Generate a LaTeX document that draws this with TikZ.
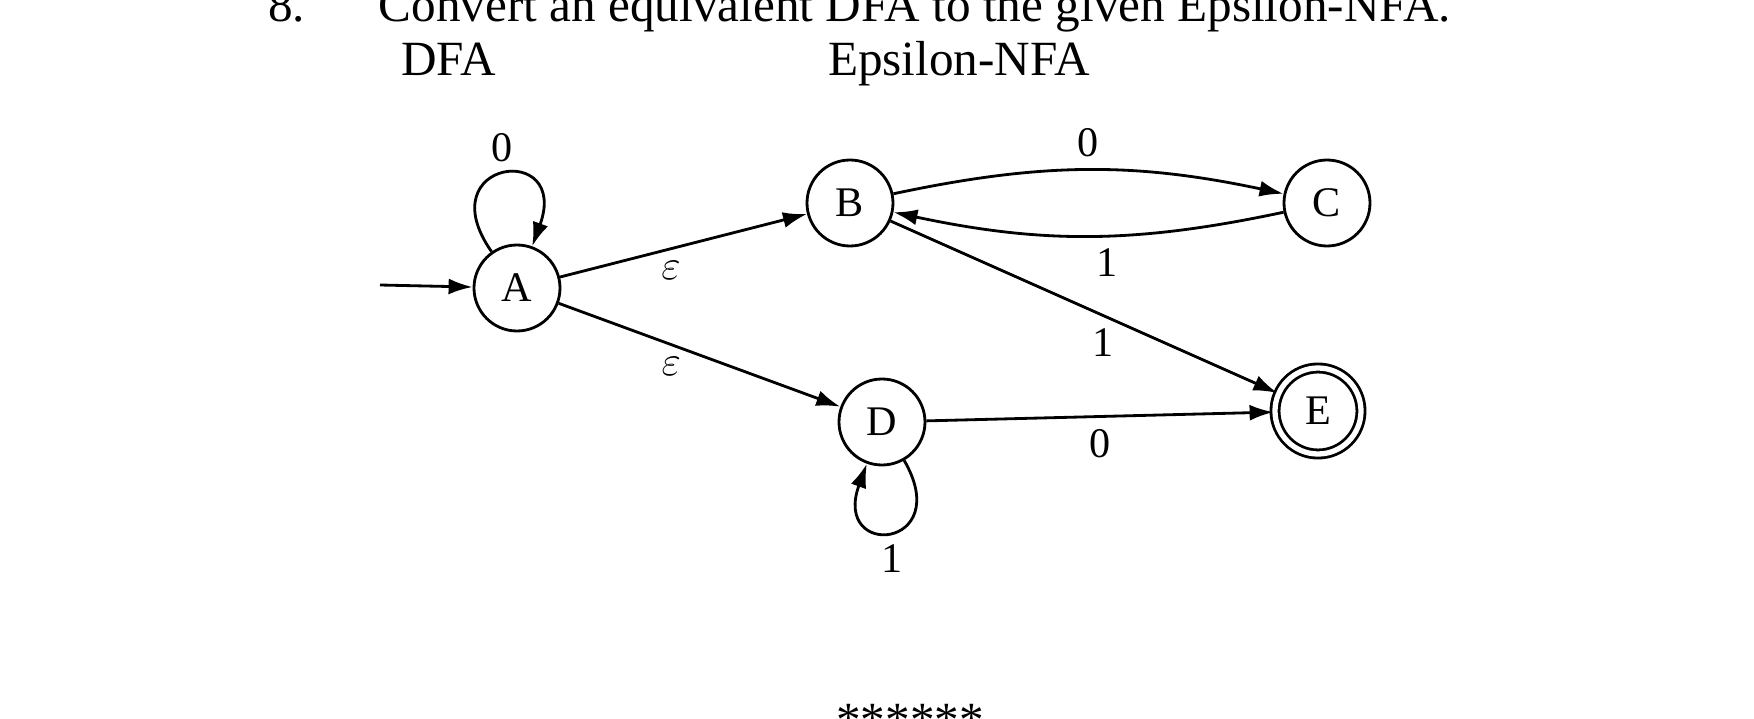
\documentclass[tikz,border=0pt]{standalone}
\usepackage{fontspec}
\setmainfont{Liberation Serif}
\usetikzlibrary{arrows.meta}
\tikzset{
	state/.style={draw, thick, circle, minimum size=0.86cm, inner sep=0pt, font=\fontsize{12}{14}\selectfont},
	lbl/.style={font=\fontsize{12}{14}\selectfont},
	head/.style={anchor=base west, font=\fontsize{14}{17}\selectfont},
	>={Latex[length=2.4mm,width=1.6mm]}
}
\begin{document}
\begin{tikzpicture}[thick]
\useasboundingbox (0,0) rectangle (17.54,7.18);
\node[head] (q) at (2.55,6.97) {8.\quad\ \ Convert an equivalent DFA to the given Epsilon-NFA.};
\node[head] (t1) at (3.88,6.43) {DFA};
\node[head] (t2) at (8.15,6.43) {Epsilon-NFA};
\node[state] (A) at (5.17,4.30) {A};
\node[state] (B) at (8.50,5.15) {B};
\node[state] (C) at (13.27,5.15) {C};
\node[state] (D) at (8.82,2.96) {D};
\node[state, double, double distance=1.5pt] (E) at (13.18,3.07) {E};
\coordinate (s) at (3.80,4.33);
\path[->]
(s) edge (A)
(A) edge [out=125, in=70, looseness=7] node [lbl, above] {0} (A)
(A) edge node [lbl, below, pos=0.45] {$\varepsilon$} (B)
(A) edge node [lbl, below, pos=0.4] {$\varepsilon$} (D)
(B) edge [bend left=12] node [lbl, above] {0} (C)
(C) edge [bend left=12] node [lbl, below, pos=0.45] {1} (B)
(B) edge node [lbl, below, pos=0.55] {1} (E)
(D) edge node [lbl, below] {0} (E)
(D) edge [out=-60, in=-110, looseness=7] node [lbl, below] {1} (D)
;
\node[font=\fontsize{14}{17}\selectfont] (st) at (9.10,-0.02) {******};
\end{tikzpicture}
\end{document}
